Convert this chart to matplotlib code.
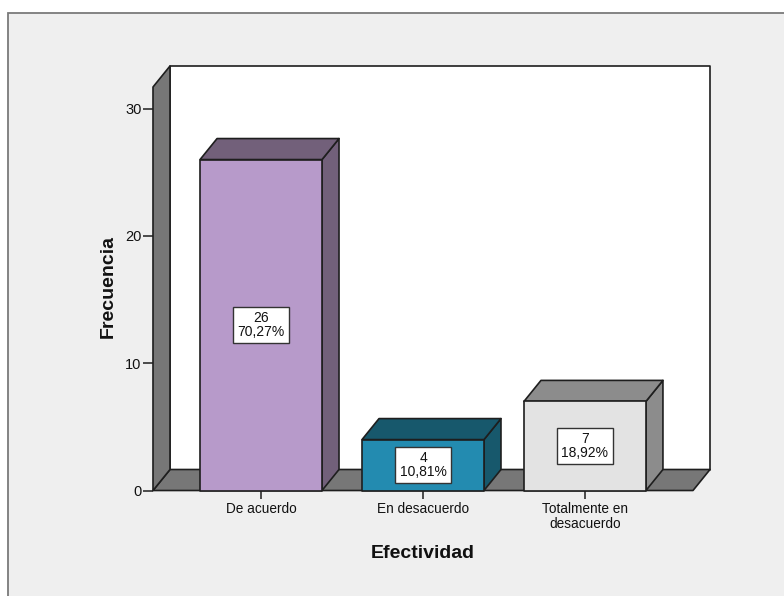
import matplotlib
matplotlib.use("Agg")
import matplotlib.pyplot as plt
from matplotlib.patches import Polygon, Rectangle

plt.rcParams['font.family'] = ['Liberation Sans', 'DejaVu Sans']

categories = ["De acuerdo", "En desacuerdo", "Totalmente en\ndesacuerdo"]
counts = [26, 4, 7]
percents = ["70,27%", "10,81%", "18,92%"]
y_ticks = [0, 10, 20, 30]
x_title = "Efectividad"
y_title = "Frecuencia"

front_colors = ["#B79ACA", "#238BB0", "#E3E3E3"]
side_colors = ["#72607A", "#17586C", "#8C8C8C"]
wall_color = "#777777"
panel_color = "#EFEFEF"
edge = "#1E1E1E"

W, H = 784, 596
fig = plt.figure(figsize=(W / 100, H / 100), dpi=100, facecolor="white")

# Panel with a grey outline on its top and left sides; it runs past the right and bottom edges
fig.patches.append(Rectangle((8 / W, -0.1), 1.1, 1.1 - 12.5 / H, transform=fig.transFigure,
                             facecolor=panel_color, edgecolor="#7A7A7A", linewidth=1.3,
                             zorder=-5))

left, right, base, top = 153, 693, 490.5, 87
ax = fig.add_axes([left / W, (H - base) / H, (right - left) / W, (base - top) / H])
ax.patch.set_visible(False)
for s in ax.spines.values():
    s.set_visible(False)

xmin, xmax = -0.667, 2.667
ymax = 31.7
ax.set_xlim(xmin, xmax)
ax.set_ylim(0, ymax)

# Oblique depth of the 3D projection, in data units
dx = 17 / 162
dy = 21 / 12.73
bar_w = 0.753


def face(points, color, z):
    ax.add_patch(Polygon(points, closed=True, facecolor=color, edgecolor=edge,
                         linewidth=1.2, joinstyle="round", clip_on=False, zorder=z))


# Back wall, floor and left wall
face([(xmin + dx, dy), (xmax + dx, dy), (xmax + dx, ymax + dy), (xmin + dx, ymax + dy)], "white", 1)
face([(xmin, 0), (xmax, 0), (xmax + dx, dy), (xmin + dx, dy)], wall_color, 1.1)
face([(xmin, 0), (xmin + dx, dy), (xmin + dx, ymax + dy), (xmin, ymax)], wall_color, 1.2)

# Bars as three visible faces, with a count and percentage box on the front
for i, (n, pct) in enumerate(zip(counts, percents)):
    x0, x1 = i - bar_w / 2, i + bar_w / 2
    face([(x1, 0), (x1 + dx, dy), (x1 + dx, n + dy), (x1, n)], side_colors[i], 2)
    face([(x0, n), (x1, n), (x1 + dx, n + dy), (x0 + dx, n + dy)], side_colors[i], 2)
    face([(x0, 0), (x1, 0), (x1, n), (x0, n)], front_colors[i], 2.1)
    ax.text(i, n / 2, f"{n}\n{pct}", ha="center", va="center", fontsize=10,
            linespacing=1.0, color="#111111", zorder=3,
            bbox=dict(boxstyle="square,pad=0.3", facecolor="white",
                      edgecolor="#333333", linewidth=1.0))

ax.set_xticks(range(len(categories)), categories, fontsize=9.8, linespacing=1.12, color="#111111")
ax.set_yticks(y_ticks, [str(v) for v in y_ticks], fontsize=10.5, color="#111111")
ax.tick_params(axis="x", length=6, width=1.1, color=edge, pad=2)
ax.tick_params(axis="y", length=7.2, width=1.1, color=edge, pad=1)

ax.set_xlabel(x_title, fontsize=14, fontweight="bold", color="#111111")
ax.set_ylabel(y_title, fontsize=14, fontweight="bold", color="#111111")
ax.xaxis.set_label_coords(0.5, (base - 553) / (base - top), transform=ax.transAxes)
ax.yaxis.set_label_coords((108 - left) / (right - left), (base - 287) / (base - top), transform=ax.transAxes)
ax.xaxis.label.set_verticalalignment("center")
ax.yaxis.label.set_verticalalignment("center")

fig.savefig("out.png", dpi=100, facecolor=fig.get_facecolor())
